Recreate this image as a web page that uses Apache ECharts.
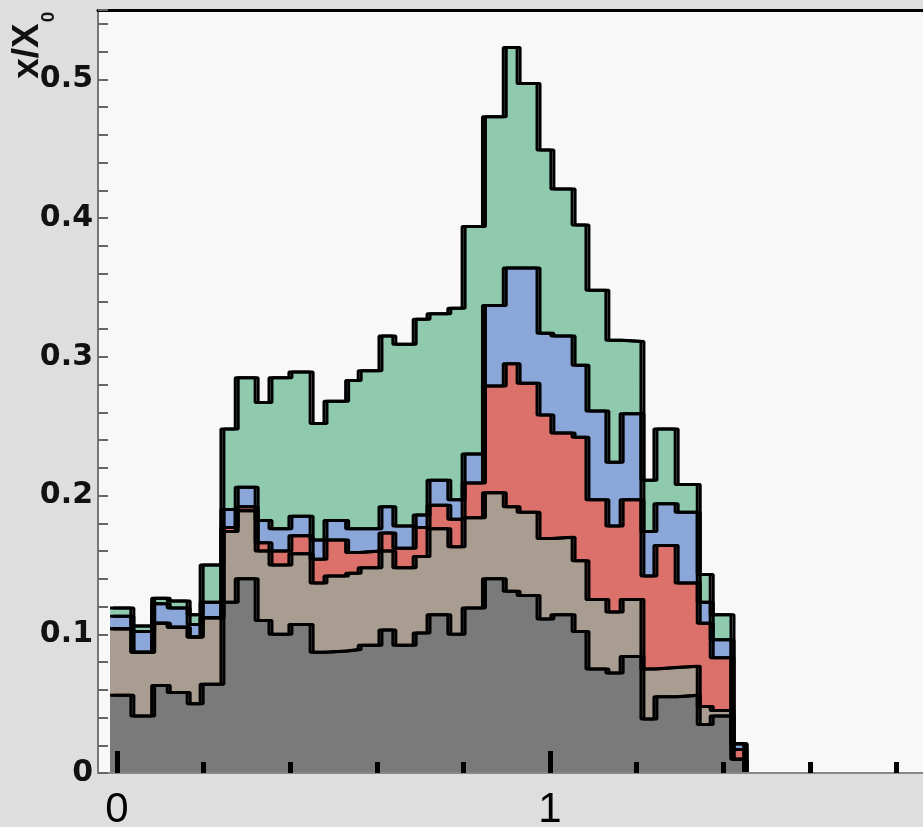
<!DOCTYPE html>
<html>
<head>
<meta charset="utf-8">
<script src="https://cdn.jsdelivr.net/npm/echarts@6/dist/echarts.min.js"></script>
<style>
html,body{margin:0;padding:0;background:#dedede;}
#c{width:923px;height:827px;}
</style>
</head>
<body>
<div id="c"></div>
<script>
// Bin edges (x units, 36 bins)
const binEdges = [-0.016, 0.032, 0.080, 0.116, 0.162, 0.192, 0.240, 0.273, 0.319, 0.351,
  0.397, 0.446, 0.478, 0.528, 0.557, 0.605, 0.637, 0.684, 0.716, 0.764,
  0.797, 0.844, 0.892, 0.924, 0.970, 1.002, 1.051, 1.083, 1.129, 1.162,
  1.210, 1.240, 1.289, 1.340, 1.370, 1.418, 1.448];

// Per-component contributions to x/X0 (bottom to top)
const grayVals  = [0.056,0.041,0.063,0.058,0.050,0.064,0.123,0.140,0.110,0.100,0.107,0.087,0.088,0.089,0.092,0.103,0.092,0.101,0.114,0.100,0.119,0.140,0.131,0.128,0.111,0.114,0.102,0.075,0.072,0.084,0.039,0.055,0.056,0.035,0.041,0.010];
const tanVals   = [0.048,0.046,0.045,0.047,0.048,0.048,0.051,0.049,0.050,0.050,0.051,0.050,0.054,0.055,0.056,0.057,0.056,0.055,0.062,0.063,0.065,0.062,0.061,0.060,0.058,0.056,0.051,0.050,0.044,0.041,0.036,0.021,0.021,0.013,0.004,0.000];
const redVals   = [0.000,0.000,0.000,0.000,0.000,0.000,0.003,0.003,0.006,0.010,0.013,0.017,0.026,0.015,0.012,0.013,0.014,0.021,0.017,0.020,0.025,0.077,0.103,0.093,0.089,0.075,0.089,0.072,0.062,0.072,0.067,0.088,0.060,0.060,0.038,0.007];
const blueVals  = [0.009,0.015,0.014,0.014,0.009,0.011,0.013,0.014,0.016,0.016,0.014,0.014,0.014,0.017,0.016,0.019,0.016,0.009,0.018,0.014,0.021,0.058,0.069,0.083,0.059,0.070,0.052,0.064,0.046,0.062,0.032,0.030,0.051,0.015,0.013,0.004];
const greenVals = [0.006,0.004,0.004,0.005,0.007,0.027,0.058,0.079,0.085,0.109,0.104,0.084,0.086,0.107,0.114,0.123,0.131,0.141,0.120,0.138,0.164,0.136,0.159,0.133,0.132,0.106,0.101,0.087,0.088,0.052,0.037,0.054,0.020,0.020,0.018,0.000];

const xTickLabels = ['0', '1'];
const yLabelStep = 0.1;

const layers = [
  {vals: grayVals,  color: '#7a7a7a'},
  {vals: tanVals,   color: '#a99d91'},
  {vals: redVals,   color: '#dc706b'},
  {vals: blueVals,  color: '#8ba7d9'},
  {vals: greenVals, color: '#8fcaae'}
];

// stack cumulatively
const nBins = binEdges.length - 1;
let running = new Array(nBins).fill(0);
layers.forEach(l => {
  running = running.map((r, i) => r + l.vals[i]);
  l.cum = running.slice();
});

function stepPoints(cum) {
  const pts = [];
  for (let i = 0; i < nBins; i++) pts.push([binEdges[i], cum[i]]);
  pts.push([binEdges[nBins], cum[nBins - 1]]);
  pts.push([binEdges[nBins], 0]);
  return pts;
}

const series = layers.slice().reverse().map(l => ({
  type: 'line',
  xAxisIndex: 0,
  yAxisIndex: 0,
  step: 'end',
  symbol: 'none',
  showSymbol: false,
  silent: true,
  z: 2,
  data: stepPoints(l.cum),
  lineStyle: {color: '#000', width: 3, shadowColor: '#000', shadowBlur: 0, shadowOffsetX: 3},
  areaStyle: {color: l.color, opacity: 1},
  animation: false
}));

const chart = echarts.init(document.getElementById('c'), null, {renderer: 'canvas'});
chart.setOption({
  animation: false,
  backgroundColor: '#dedede',
  grid: [
    {left: 98, top: 10, right: 0, bottom: 54, show: true, backgroundColor: '#f8f8f8', borderWidth: 0,
     containLabel: false, outerBoundsMode: 'none'},
    {left: 117, top: 10, width: 866, bottom: 54, show: false,
     containLabel: false, outerBoundsMode: 'none'}
  ],
  xAxis: [
    {type: 'value', gridIndex: 0, min: -0.0439, max: 1.8614, position: 'bottom', z: 5,
     axisLine: {show: true, onZero: false, lineStyle: {color: '#888', width: 2}},
     axisTick: {show: false}, axisLabel: {show: false}, splitLine: {show: false}},
    {type: 'value', gridIndex: 0, min: -0.0439, max: 1.8614, position: 'top', z: 5,
     axisLine: {show: true, onZero: false, lineStyle: {color: '#000', width: 3}},
     axisTick: {show: false}, axisLabel: {show: false}, splitLine: {show: false}},
    {type: 'value', gridIndex: 1, min: 0, max: 2, interval: 1, position: 'bottom', z: 6,
     axisLine: {show: false, onZero: false},
     axisTick: {show: true, inside: true, length: 22, lineStyle: {color: '#000', width: 5}},
     minorTick: {show: true, splitNumber: 5, length: 11, lineStyle: {color: '#000', width: 5}},
     axisLabel: {show: true, margin: 16, fontSize: 42, fontFamily: 'Liberation Sans', color: '#000',
       formatter: v => (Math.round(v) < xTickLabels.length ? xTickLabels[Math.round(v)] : '')},
     splitLine: {show: false}, minorSplitLine: {show: false}}
  ],
  yAxis: [
    {type: 'value', gridIndex: 0, min: 0, max: 0.55, interval: 0.02, z: 5,
     axisLine: {show: true, onZero: false, lineStyle: {color: '#777', width: 2}},
     axisTick: {show: true, inside: true, length: 10, lineStyle: {color: '#666', width: 2}},
     axisLabel: {show: true, interval: 0, margin: 5, fontSize: 30, fontWeight: 'bold',
       fontFamily: 'DejaVu Sans', color: '#111',
       formatter: v => {
         const k = v / yLabelStep;
         if (Math.abs(k - Math.round(k)) > 1e-6) return '';
         const r = Math.round(k);
         return r === 0 ? '0' : (r * yLabelStep).toFixed(1);
       }},
     splitLine: {show: false}},
    {type: 'value', gridIndex: 1, min: 0, max: 1, show: false}
  ],
  graphic: [
    {type: 'text', x: 28, y: 51, rotation: Math.PI / 2,
     style: {text: 'x/X', font: 'bold 37px "Liberation Sans"', fill: '#111', align: 'center', verticalAlign: 'middle'}},
    {type: 'text', x: 49, y: 17, rotation: Math.PI / 2,
     style: {text: '0', font: 'bold 19px "Liberation Sans"', fill: '#111', align: 'center', verticalAlign: 'middle'}}
  ],
  series: series
});
</script>
</body>
</html>
